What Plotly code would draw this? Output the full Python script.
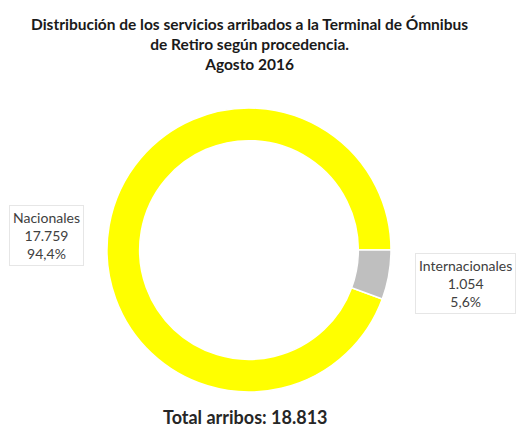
import plotly.graph_objects as go

labels = ["Nacionales", "Internacionales"]
values = [17759, 1054]
colors = ["#FFFF00", "#BFBFBF"]
title_lines = ["Distribución de los servicios arribados a la Terminal de Ómnibus",
               "de Retiro según procedencia.",
               "Agosto 2016"]
total_label = "Total arribos"

total = sum(values)


def fmt_int(n):
    return f"{n:,}".replace(",", ".")


def fmt_pct(v):
    return f"{v * 100 / total:.1f}%".replace(".", ",")


W, H = 521, 432
cx, cy, r = 249, 250, 142

fig = go.Figure()
fig.add_trace(go.Pie(
    labels=labels,
    values=values,
    sort=False,
    direction="clockwise",
    rotation=90 + 360 * values[1] / total,
    hole=0.77,
    marker=dict(colors=colors, line=dict(color="white", width=1.5)),
    textinfo="none",
    hoverinfo="label+value+percent",
    showlegend=False,
    domain=dict(x=[(cx - r) / W, (cx + r) / W],
                y=[(H - cy - r) / H, (H - cy + r) / H]),
))

annotations = []
annotations.append(dict(
    text="<b>" + "<br>".join(title_lines) + "</b>",
    x=249 / W, y=1 - 13 / H, xref="paper", yref="paper",
    xanchor="center", yanchor="top", showarrow=False,
    font=dict(family="Lato", size=15.5, color="#1a1a1a"),
))

label_pos = [(46.5, 235.5), (465, 283)]
for lab, val, (px, py) in zip(labels, values, label_pos):
    annotations.append(dict(
        text=f"{lab}<br>{fmt_int(val)}<br>{fmt_pct(val)}",
        x=px / W, y=1 - py / H, xref="paper", yref="paper",
        xanchor="center", yanchor="middle", showarrow=False,
        font=dict(family="Lato", size=14, color="#404040"),
        bgcolor="white", bordercolor="#e6e6e6", borderwidth=1, borderpad=3,
    ))

annotations.append(dict(
    text=f"<b>{total_label}: {fmt_int(total)}</b>",
    x=245 / W, y=1 - 417 / H, xref="paper", yref="paper",
    xanchor="center", yanchor="middle", showarrow=False,
    font=dict(family="Lato", size=18, color="#262626"),
))

fig.update_layout(
    width=W, height=H,
    margin=dict(l=0, r=0, t=0, b=0),
    paper_bgcolor="white",
    plot_bgcolor="white",
    annotations=annotations,
)

fig.write_html(
    "out.html",
    config={"displayModeBar": False},
    post_script="document.body.style.margin='0';document.body.style.overflow='hidden';",
)
